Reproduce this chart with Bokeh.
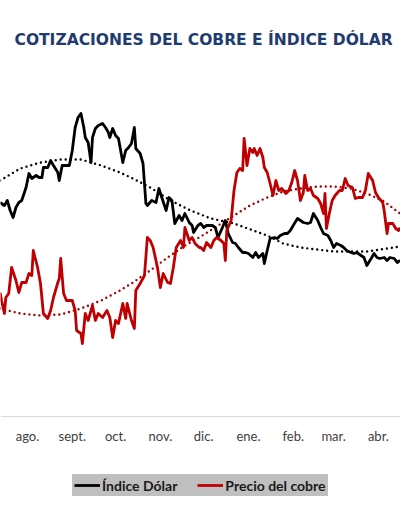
import numpy as np
import pandas as pd
from bokeh.plotting import figure
from bokeh.models import (Range1d, FixedTicker, Legend, LegendItem, Label)
from bokeh.embed import file_html
from bokeh.resources import INLINE

# ---- data (days counted from 2022-08-01) ----
month_labels = ["ago.", "sept.", "oct.", "nov.", "dic.", "ene.", "feb.", "mar.", "abr."]

dias_dolar = [-19, -16, -14, -12, -10, -8, -6, -4, -1, 1, 3, 6, 8, 10, 11, 14, 16, 18, 21, 22,
              24, 26, 29, 31, 33, 35, 37, 39, 40, 42, 44, 45, 47, 49, 52, 54, 56, 57, 59, 61,
              63, 66, 68, 70, 72, 74, 75, 78, 80, 82, 83, 86, 89, 91, 93, 96, 98, 100, 102, 105,
              107, 109, 112, 114, 115, 118, 120, 122, 124, 128, 130, 132, 135, 137, 139, 142, 144, 146, 149, 151,
              153, 156, 158, 160, 163, 164, 166, 168, 171, 173, 175, 178, 180, 182, 184, 187, 189, 191, 194, 196,
              198, 201, 203, 205, 208, 210, 212, 214, 217, 219, 221, 224, 226, 228, 231, 233, 235, 238, 240, 242,
              244, 247, 249, 251, 254, 256, 258]
indice_dolar = [106.88, 106.64, 107.04, 106.24, 105.68, 106.48, 106.88, 107.04, 108.08, 109.2,
                108.8, 109.04, 108.88, 108.88, 109.68, 109.68, 110.24, 109.84, 109.28, 108.64,
                109.84, 109.84, 109.84, 111.04, 112.88, 113.68, 114.0, 112.88, 112.08, 111.68,
                110.08, 112.08, 112.8, 113.04, 113.2, 112.88, 112.48, 112.08, 112.8, 112.24,
                112.0, 110.08, 111.04, 111.28, 111.6, 112.88, 111.2, 110.8, 110.0, 106.8,
                106.64, 107.04, 106.88, 108.0, 107.28, 106.24, 107.28, 107.04, 105.2, 105.84,
                105.44, 106.0, 105.28, 105.04, 104.48, 105.04, 105.2, 104.88, 105.04, 105.04,
                104.88, 104.08, 104.88, 105.44, 104.4, 103.68, 103.6, 103.28, 102.88, 102.88,
                102.8, 102.48, 102.88, 102.48, 102.8, 102.0, 103.04, 104.0, 104.08, 104.0,
                104.24, 104.4, 104.4, 104.64, 105.04, 105.6, 105.44, 105.28, 105.2, 105.28,
                106.0, 105.44, 104.88, 104.4, 104.24, 103.84, 103.28, 103.6, 103.44, 103.28,
                103.04, 102.88, 102.8, 102.88, 102.64, 102.48, 101.84, 102.4, 102.8, 102.48,
                102.4, 102.48, 102.24, 102.48, 102.4, 102.08, 102.24]

dias_cobre = [-19, -18, -16, -15, -13, -11, -8, -6, -4, -1, 1, 3, 4, 7, 9, 11, 14, 16, 18, 21,
              22, 23, 25, 27, 31, 33, 34, 37, 38, 40, 42, 45, 47, 49, 52, 55, 57, 59, 61, 63,
              66, 68, 69, 72, 74, 75, 78, 81, 83, 85, 87, 90, 92, 94, 97, 99, 101, 103, 106, 108,
              109, 112, 114, 116, 119, 120, 122, 124, 127, 129, 131, 134, 136, 137, 138, 141, 143, 145, 147, 149,
              150, 152, 154, 156, 157, 159, 161, 163, 164, 166, 168, 170, 172, 174, 176, 179, 181, 183, 185, 187,
              189, 191, 192, 194, 196, 198, 201, 203, 205, 206, 207, 209, 211, 213, 216, 218, 220, 222, 225, 227,
              229, 232, 234, 236, 239, 241, 243, 246, 247, 249, 250, 253, 255, 257, 258]
precio_cobre = [3.53, 3.49, 3.425, 3.505, 3.525, 3.655, 3.59, 3.53, 3.58, 3.58,
                3.625, 3.615, 3.74, 3.655, 3.575, 3.425, 3.40, 3.44, 3.505, 3.58,
                3.60, 3.70, 3.525, 3.49, 3.49, 3.44, 3.34, 3.325, 3.275, 3.425,
                3.39, 3.465, 3.39, 3.425, 3.405, 3.44, 3.405, 3.305, 3.39, 3.375,
                3.475, 3.40, 3.475, 3.39, 3.35, 3.54, 3.575, 3.615, 3.805, 3.79,
                3.755, 3.655, 3.555, 3.625, 3.58, 3.575, 3.655, 3.755, 3.79, 3.755,
                3.855, 3.79, 3.805, 3.775, 3.755, 3.755, 3.74, 3.78, 3.755, 3.79,
                3.805, 3.79, 3.775, 3.69, 3.84, 3.89, 4.04, 4.13, 4.15, 4.14,
                4.30, 4.165, 4.25, 4.23, 4.25, 4.215, 4.25, 4.205, 4.155, 4.13,
                4.075, 4.015, 4.09, 4.04, 4.05, 4.025, 4.04, 4.08, 4.14, 4.09,
                3.99, 4.03, 4.115, 4.04, 4.05, 4.015, 4.00, 3.975, 3.925, 4.025,
                3.85, 3.925, 3.99, 4.015, 4.04, 4.04, 4.10, 4.065, 4.055, 4.00,
                4.005, 4.005, 4.04, 4.125, 4.09, 4.03, 4.005, 3.98, 3.94, 3.825,
                3.875, 3.875, 3.85, 3.84, 3.855]

# trendlines (polynomial trend)
dias_tend_dolar = [-19, -5, 9, 23, 37, 51, 64, 73, 85, 99, 113, 127, 143, 166, 177, 189, 212, 235, 258]
tend_dolar = [108.64, 109.6, 110.08, 110.32, 110.32, 109.84, 109.28, 108.8, 108.08, 107.04,
              106.24, 105.6, 105.2, 104.24, 103.6, 103.28, 102.96, 102.96, 103.36]
dias_tend_cobre = [-19, -5, 9, 23, 37, 51, 64, 73, 85, 97, 108, 120, 132, 143, 154, 166, 177, 189,
                   201, 212, 224, 235, 247, 258]
tend_cobre = [3.45, 3.425, 3.415, 3.42, 3.45, 3.49, 3.54, 3.58, 3.64, 3.705, 3.76, 3.81,
              3.865, 3.915, 3.965, 4.005, 4.035, 4.05, 4.06, 4.06, 4.05, 4.025, 3.985, 3.925]

# ---- derived ----
meses = pd.date_range("2022-08-01", periods=len(month_labels), freq="MS")
month_days = [int(d) for d in (meses - meses[0]).days]

NEGRO = "#000000"
ROJO = "#C00000"
GRIS = "#BFBFBF"

# frame covers the whole canvas; the date axis is pinned at a fixed level
p = figure(width=400, height=509, output_backend="svg", toolbar_location=None,
           x_range=Range1d(-18.7, 258.3), y_range=Range1d(82.32, 123.04),
           y_axis_location=None, min_border_left=0, min_border_right=0,
           min_border_top=0, min_border_bottom=0)
p.extra_y_ranges = {"cobre": Range1d(2.445, 4.99)}
p.outline_line_color = None
p.xgrid.grid_line_color = None
p.ygrid.grid_line_color = None
p.background_fill_color = "white"
p.border_fill_color = "white"

# trendlines
p.line(dias_tend_dolar, tend_dolar, line_color=NEGRO, line_width=2.4, line_dash="0 5",
       line_cap="round", line_join="round")
p.line(dias_tend_cobre, tend_cobre, line_color="#A00000", line_width=2.4, line_dash="0 5",
       line_cap="round", line_join="round", y_range_name="cobre")

r_dolar = p.line(dias_dolar, indice_dolar, line_color=NEGRO, line_width=2.8, line_join="round")
r_cobre = p.line(dias_cobre, precio_cobre, line_color=ROJO, line_width=2.8, line_join="round",
                 y_range_name="cobre")

ax = p.xaxis[0]
ax.fixed_location = 89.76
ax.ticker = FixedTicker(ticks=month_days)
ax.major_label_overrides = {d: l for d, l in zip(month_days, month_labels)}
ax.axis_line_color = "#D9D9D9"
ax.axis_line_width = 1
ax.major_tick_line_color = None
ax.minor_tick_line_color = None
ax.major_label_standoff = 5
ax.major_label_text_font = "Lato"
ax.major_label_text_font_size = "13px"
ax.major_label_text_color = "#404040"

titulo = Label(x=14, y=470, x_units="screen", y_units="screen",
               text="COTIZACIONES DEL COBRE E ÍNDICE DÓLAR",
               text_font="DejaVu Sans", text_font_style="bold", text_font_size="15.5px",
               text_color="#1F3B70", text_baseline="middle", text_align="left")
p.add_layout(titulo)

legend = Legend(items=[LegendItem(label="Índice Dólar", renderers=[r_dolar]),
                       LegendItem(label="Precio del cobre", renderers=[r_cobre])],
                orientation="horizontal", location=(72, 13),
                background_fill_color=GRIS, background_fill_alpha=1.0,
                border_line_color=GRIS, border_line_width=1,
                padding=1, spacing=20, margin=0,
                glyph_width=26, glyph_height=18, label_standoff=2, label_height=18,
                label_text_font="Lato", label_text_font_size="14px",
                label_text_color="#1a1a1a", label_text_font_style="bold")
p.add_layout(legend)

open("out.html", "w").write(file_html(p, INLINE))
